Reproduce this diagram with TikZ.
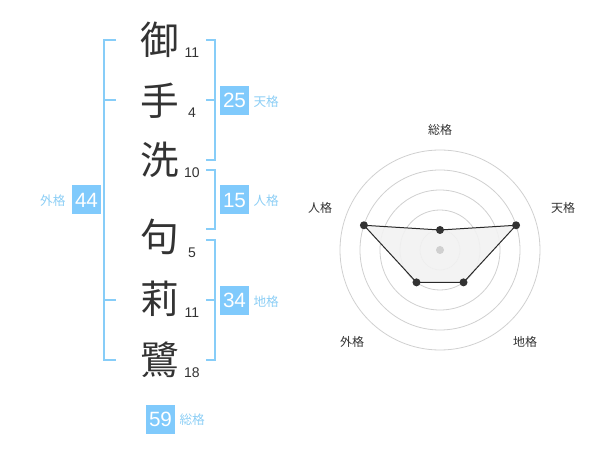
\documentclass[tikz,border=0pt]{standalone}
\usepackage{fontspec}
\usetikzlibrary{calc}
\setmainfont{Liberation Sans}
\newfontfamily\jp{Noto Sans CJK JP}
\definecolor{kakuLine}{RGB}{135,205,248}
\definecolor{kakuBox}{RGB}{128,202,252}
\definecolor{kakuText}{RGB}{140,206,245}
\definecolor{inkGray}{RGB}{51,51,51}
\definecolor{ringGray}{RGB}{208,208,208}
\tikzset{every picture/.style={line width=0.75pt}}
\tikzset{
  kanji/.style={inner sep=0pt, text=inkGray, font=\jp\fontsize{29}{29}\selectfont},
  stroke/.style={inner sep=0pt, text=inkGray, font=\fontsize{10.5}{10.5}\selectfont},
  kakubox/.style={fill=kakuBox, text=white, minimum size=21.75pt, inner sep=0pt, font=\fontsize{15.5}{15.5}\selectfont},
  kakulabel/.style={inner sep=0pt, text=kakuText, font=\jp\fontsize{9.5}{9.5}\selectfont},
  bracket/.style={draw=kakuLine, line width=1.5pt},
  radarlabel/.style={inner sep=0pt, text=inkGray, font=\jp\fontsize{9}{9}\selectfont},
  ring/.style={draw=ringGray, line width=0.6pt},
  vertex/.style={circle, fill=inkGray, inner sep=0pt, minimum size=6pt}
}

\begin{document}
\begin{tikzpicture}[x=0.75pt,y=0.75pt,yscale=-1,xscale=1]
        \useasboundingbox (0,0) rectangle (600,470);

        % Name characters
        \node [kanji] (c1) at (160,40) {御};
        \node [kanji] (c2) at (160,101) {手};
        \node [kanji] (c3) at (160,160) {洗};
        \node [kanji] (c4) at (160,237) {句};
        \node [kanji] (c5) at (160,299) {莉};
        \node [kanji] (c6) at (160,360) {鷺};

        % Stroke counts
        \node [stroke] (s1) at (192,53) {11};
        \node [stroke] (s2) at (192,113) {4};
        \node [stroke] (s3) at (192,173) {10};
        \node [stroke] (s4) at (192,253) {5};
        \node [stroke] (s5) at (192,313) {11};
        \node [stroke] (s6) at (192,373) {18};

        %Shape: Bracket gaikaku
        \draw [bracket] (116,40) -- (104,40) -- (104,360) -- (116,360) ;
        \draw [bracket] (104,100) -- (116,100) ;
        \draw [bracket] (104,300) -- (116,300) ;
        %Shape: Bracket tenkaku
        \draw [bracket] (206,40) -- (215,40) -- (215,160) -- (206,160) ;
        \draw [bracket] (215,100) -- (206,100) ;
        %Shape: Bracket jinkaku
        \draw [bracket] (206,170) -- (215,170) -- (215,229) -- (206,229) ;
        %Shape: Bracket chikaku
        \draw [bracket] (206,240) -- (215,240) -- (215,360) -- (206,360) ;
        \draw [bracket] (215,300) -- (206,300) ;

        % Totals
        \node [kakubox] (ten) at (234.5,100.5) {25};
        \node [kakulabel, anchor=west] (tenL) at (253,102) {天格};
        \node [kakubox] (jin) at (234.5,200) {15};
        \node [kakulabel, anchor=west] (jinL) at (253,201) {人格};
        \node [kakubox] (chi) at (234.5,300.5) {34};
        \node [kakulabel, anchor=west] (chiL) at (253,302) {地格};
        \node [kakubox] (gai) at (86.5,200) {44};
        \node [kakulabel, anchor=east] (gaiL) at (66,201) {外格};
        \node [kakubox] (sou) at (160.5,419) {59};
        \node [kakulabel, anchor=west] (souL) at (179,420) {総格};

        % Radar chart
        \foreach \r in {20,40,...,100} {
            \draw [ring] (440,250) circle (\r) ;
        }
        \coordinate (rc) at (440,250);
        \coordinate (pSou) at ($(rc)+(-90:20)$);
        \coordinate (pTen) at ($(rc)+(-18:80)$);
        \coordinate (pChi) at ($(rc)+(54:40)$);
        \coordinate (pGai) at ($(rc)+(126:40)$);
        \coordinate (pJin) at ($(rc)+(198:80)$);
        \draw [fill=black!5, fill opacity=0.9, draw=inkGray!80!black] (pSou) -- (pTen) -- (pChi) -- (pGai) -- (pJin) -- cycle ;
        \node [circle, fill=ringGray, inner sep=0pt, minimum size=6pt] (mid) at (rc) {};
        \foreach \p in {pSou,pTen,pChi,pGai,pJin} {
            \node [vertex] at (\p) {};
        }

        % Radar labels
        \node [radarlabel] (lSou) at (440,130) {総格};
        \node [radarlabel] (lTen) at (563,208) {天格};
        \node [radarlabel] (lChi) at (525,342) {地格};
        \node [radarlabel] (lGai) at (352,342) {外格};
        \node [radarlabel] (lJin) at (320,208) {人格};
\end{tikzpicture}
\end{document}
